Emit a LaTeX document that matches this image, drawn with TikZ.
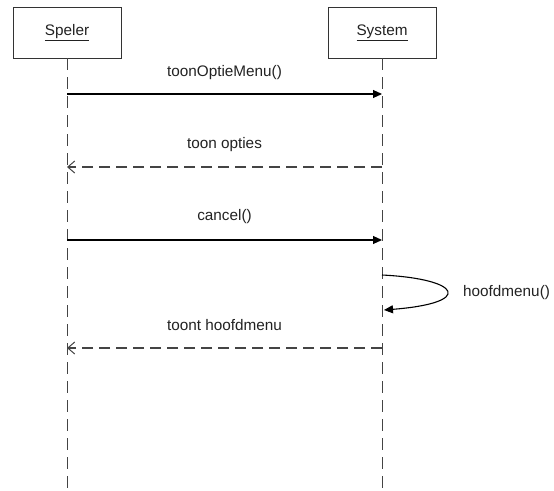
\documentclass[tikz,border=0pt]{standalone}
\usepackage{fontspec}
\setmainfont{Liberation Sans}
\usetikzlibrary{arrows.meta}
\definecolor{lineclr}{HTML}{333333}
\definecolor{lifeclr}{HTML}{444444}
\definecolor{txtclr}{HTML}{222222}
\begin{document}
\begin{tikzpicture}[x=1pt,y=-1pt,
  font=\fontsize{15.3}{18}\selectfont,
  actor/.style={draw=lineclr, line width=0.9pt, fill=white, minimum width=108pt,
    minimum height=51pt, inner sep=0pt, text=txtclr},
  lifeline/.style={draw=lifeclr, line width=1pt, dash pattern=on 12pt off 7pt},
  call/.style={draw=black, line width=1.1pt, -{Triangle[length=9pt,width=8pt]}},
  reply/.style={draw=lifeclr, line width=1.1pt, dash pattern=on 11pt off 6pt,
    -{Straight Barb[length=7pt,width=12pt,line width=1pt]}},
  msg/.style={text=txtclr, inner sep=0pt}]
  \useasboundingbox (0,0) rectangle (554,490);

  % participants
  \node[actor] (speler) at (67,32.5) {\underline{Speler}};
  \node[actor] (system) at (382,32.5) {\underline{System}};

  % lifelines
  \coordinate (spelerEnd) at (67,490);
  \coordinate (systemEnd) at (382,490);
  \draw[lifeline] (speler.south) -- (spelerEnd);
  \draw[lifeline] (system.south) -- (systemEnd);

  % points on the lifelines
  \coordinate (s1) at (67,94);   \coordinate (y1) at (382,94);
  \coordinate (s2) at (67,167);  \coordinate (y2) at (382,167);
  \coordinate (s3) at (67,240);  \coordinate (y3) at (382,240);
  \coordinate (y4a) at (382,275); \coordinate (y4b) at (384,310);
  \coordinate (s5) at (67,348);  \coordinate (y5) at (382,348);

  % messages
  \draw[call] (s1) -- (y1);
  \node[msg] (m1) at (224.5,73) {toonOptieMenu()};

  \draw[reply] (y2) -- (s2);
  \node[msg] (m2) at (224.5,145) {toon opties};

  \draw[call] (s3) -- (y3);
  \node[msg] (m3) at (224.5,217) {cancel()};

  % self call
  \draw[call] (y4a) .. controls (462,279) and (474,303) .. (y4b);
  \node[msg, anchor=west] (m4) at (463,293) {hoofdmenu()};

  \draw[reply] (y5) -- (s5);
  \node[msg] (m5) at (224.5,325) {toont hoofdmenu};
\end{tikzpicture}
\end{document}
